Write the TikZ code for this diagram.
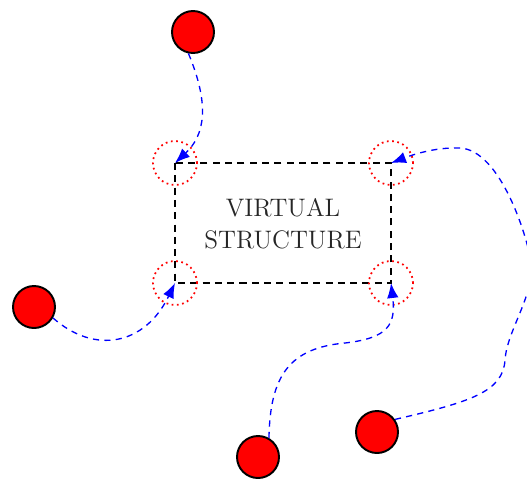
\documentclass[tikz,border=0pt]{standalone}
\usepackage{xcolor}
\usepackage{tikz}
\usetikzlibrary{arrows.meta}
\tikzset{robot/.style={circle, draw=black, fill=red, line width=1.1pt, minimum size=0.84cm, inner sep=0pt},
  slot/.style={circle, draw=red, dotted, line width=1pt, minimum size=0.88cm, inner sep=0pt},
  path/.style={blue, dash pattern=on 3.5pt off 3pt, line width=0.75pt, -{Latex[length=3mm,width=2.3mm]}}}

\begin{document}
\begin{tikzpicture} [x=0.02cm, y=-0.02cm]
\useasboundingbox (0,0) rectangle (527,481);
% corners of the virtual structure
\coordinate (c1) at (175,163);
\coordinate (c2) at (391,163);
\coordinate (c3) at (175,283);
\coordinate (c4) at (391,283);
\draw[black, dash pattern=on 4pt off 3pt, line width=1.6pt] (c1) rectangle (c4);
\node[align=center, font=\Large, text=black!85] (vs) at (283,224) {VIRTUAL\\STRUCTURE};
\foreach \c in {c1,c2,c3,c4} {
 \node[slot] (s\c) at (\c) {};
}
% robots
\node[robot] (r1) at (193,32) {};
\node[robot] (r2) at (34,307) {};
\node[robot] (r3) at (258,457) {};
\node[robot] (r4) at (377,432) {};
\draw[path] (r1.-102) .. controls (210,105) and (205,135) .. (c1);
\draw[path] (r2.-30) .. controls (95,355) and (145,345) .. (c3);
\draw[path] (r3.60) .. controls (270,375) and (290,348) .. (345,343) .. controls (388,338) and (396,325) .. (c4);
\draw[path] (r4.35) .. controls (470,402) and (503,392) .. (505,360)
  .. controls (507,330) and (535,295) .. (531,262)
  .. controls (527,235) and (500,150) .. (460,148)
  .. controls (435,147) and (412,155) .. (c2);
\end{tikzpicture}
\end{document}
